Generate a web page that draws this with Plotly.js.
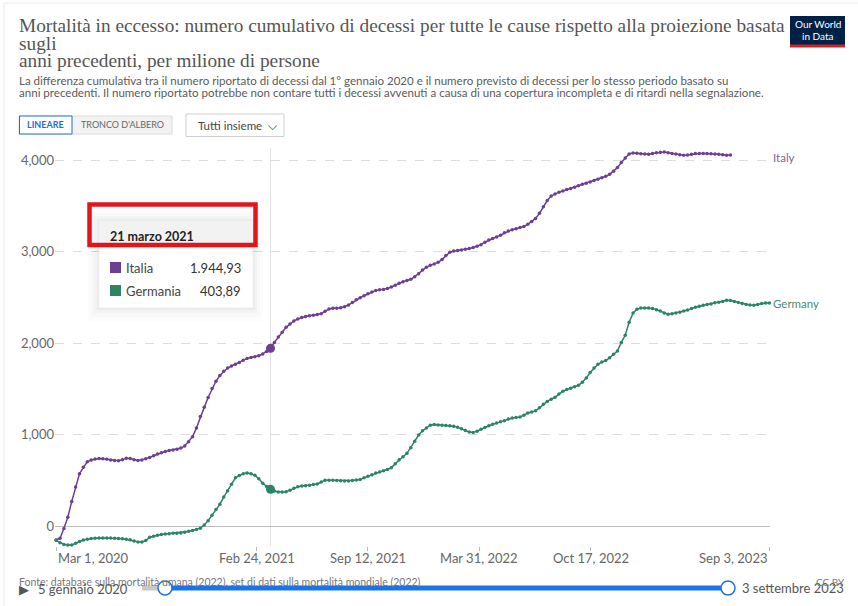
<!DOCTYPE html>
<html>
<head>
<meta charset="utf-8">
<script src="https://cdn.plot.ly/plotly-3.0.1.min.js"></script>
<style>
html,body{margin:0;padding:0;background:#fff;}
#chart{width:858px;height:606px;}
</style>
</head>
<body>
<div id="chart"></div>
<script>
// ---------- DATA ----------
const startDate = "2020-03-01";   // first weekly observation (Sundays)
const stepDays = 7;

const italyValues = [
-150,-130,-25,100,270,430,575,645,705,725,
735,740,738,732,726,718,716,728,745,740,
728,720,726,738,752,772,790,803,818,828,
835,842,855,878,925,980,1075,1200,1300,1408,
1505,1585,1648,1695,1730,1752,1772,1790,1815,1835,
1845,1853,1865,1884,1910,1945,2010,2070,2120,2175,
2210,2245,2265,2282,2292,2300,2306,2314,2324,2350,
2375,2382,2384,2388,2400,2418,2445,2475,2498,2520,
2542,2560,2577,2584,2588,2600,2615,2635,2656,2672,
2686,2700,2728,2760,2800,2832,2852,2868,2885,2915,
2960,2996,3008,3013,3020,3027,3035,3048,3062,3078,
3105,3128,3146,3163,3182,3207,3228,3242,3253,3265,
3277,3300,3330,3365,3420,3492,3560,3610,3633,3652,
3665,3680,3692,3705,3722,3737,3750,3764,3778,3793,
3808,3825,3847,3880,3920,3975,4025,4070,4080,4077,
4072,4070,4066,4074,4082,4088,4090,4082,4074,4068,
4060,4056,4058,4066,4073,4075,4074,4073,4071,4070,
4066,4060,4054,4058];

const germanyValues = [
-153,-180,-198,-205,-205,-185,-165,-150,-140,-133,
-130,-128,-128,-127,-128,-130,-133,-137,-142,-148,
-160,-172,-172,-155,-120,-108,-97,-90,-85,-80,
-77,-75,-72,-65,-55,-45,-36,-20,15,62,
122,185,240,320,390,460,530,555,575,583,
575,557,520,470,435,404,385,375,375,378,
395,415,432,440,443,448,456,462,485,503,
503,503,502,498,496,496,500,505,512,530,
548,565,583,594,608,622,640,685,728,760,
798,860,930,998,1045,1075,1105,1112,1108,1105,
1103,1100,1095,1082,1065,1048,1030,1025,1040,1060,
1080,1100,1115,1128,1142,1155,1172,1183,1188,1195,
1215,1238,1250,1262,1295,1333,1365,1390,1410,1445,
1475,1495,1508,1525,1542,1575,1620,1680,1730,1770,
1795,1812,1842,1880,1915,2010,2088,2230,2330,2372,
2385,2386,2385,2381,2368,2352,2330,2317,2322,2330,
2340,2352,2363,2380,2395,2405,2415,2423,2430,2442,
2450,2458,2470,2468,2458,2447,2435,2425,2418,2416,
2425,2434,2440,2441];

const seriesNames = ["Italy", "Germany"];
const tooltipNames = ["Italia", "Germania"];
const tooltipValues = ["1.944,93", "403,89"];
const tooltipDate = "21 marzo 2021";
const hoverIndex = 55;   // week of 21 March 2021

const xTickVals = ["2020-03-01","2021-02-24","2021-09-12","2022-03-31","2022-10-17","2023-09-03"];
const xTickText = ["Mar 1, 2020","Feb 24, 2021","Sep 12, 2021","Mar 31, 2022","Oct 17, 2022","Sep 3, 2023"];
const yTickVals = [0,1000,2000,3000,4000];
const yTickText = ["0","1,000","2,000","3,000","4,000"];

// ---------- BUILD ----------
function weeklyDates(n){
  const out=[]; const d0=new Date(startDate+"T00:00:00Z");
  for(let i=0;i<n;i++){ const d=new Date(d0.getTime()+i*stepDays*86400000); out.push(d.toISOString().slice(0,10)); }
  return out;
}
const italyDates = weeklyDates(italyValues.length);
const germanyDates = weeklyDates(germanyValues.length);

const W=858,H=606;
const M={l:55,r:88,t:142,b:60};
const PW=W-M.l-M.r, PH=H-M.t-M.b;
const px=x=>(x-M.l)/PW;
const py=y=>(H-M.b-y)/PH;

const cIt="#6D3E91", cDe="#2C8465";
const FONT="Lato, 'Open Sans', sans-serif";

const traces=[
 {x:italyDates,y:italyValues,type:"scatter",mode:"lines+markers",name:seriesNames[0],
  line:{color:cIt,width:1.5},marker:{color:cIt,size:3.5},cliponaxis:false,hoverinfo:"skip"},
 {x:germanyDates,y:germanyValues,type:"scatter",mode:"lines+markers",name:seriesNames[1],
  line:{color:cDe,width:1.5},marker:{color:cDe,size:3.5},cliponaxis:false,hoverinfo:"skip"},
 {x:[italyDates[hoverIndex]],y:[italyValues[hoverIndex]],type:"scatter",mode:"markers",
  marker:{color:cIt,size:9},hoverinfo:"skip"},
 {x:[germanyDates[hoverIndex]],y:[germanyValues[hoverIndex]],type:"scatter",mode:"markers",
  marker:{color:cDe,size:9},hoverinfo:"skip"}
];

function rect(x0,y0,x1,y1,opt){
  return Object.assign({type:"rect",xref:"paper",yref:"paper",x0:px(x0),x1:px(x1),y0:py(y1),y1:py(y0),layer:"above",line:{width:0}},opt);
}
function hline(x0,x1,y,color,width){
  return {type:"line",xref:"paper",yref:"paper",x0:px(x0),x1:px(x1),y0:py(y),y1:py(y),layer:"above",line:{color:color,width:width}};
}
function circ(cx,cy,r,opt){
  return Object.assign({type:"circle",xref:"paper",yref:"paper",x0:px(cx-r),x1:px(cx+r),y0:py(cy+r),y1:py(cy-r),layer:"above"},opt);
}

const shapes=[
 rect(4,3,870,640,{fillcolor:"rgba(0,0,0,0)",line:{color:"#ececec",width:1},layer:"below"}),
 {type:"line",xref:"x",yref:"paper",x0:italyDates[hoverIndex],x1:italyDates[hoverIndex],y0:0,y1:py(148),layer:"below",line:{color:"#e3e3e3",width:1}},
 // tooltip shadow
 rect(88,210,263,321,{fillcolor:"rgba(0,0,0,0.012)"}),
 rect(91,213,260,317,{fillcolor:"rgba(0,0,0,0.016)"}),
 rect(94,216,257,313,{fillcolor:"rgba(0,0,0,0.02)"}),
 rect(97,219,255,310,{fillcolor:"rgba(0,0,0,0.025)"}),
 rect(99,221,253,308,{fillcolor:"#ffffff",line:{color:"#e6e6e6",width:0.5}}),
 rect(99,221,253,248,{fillcolor:"#f2f2f2"}),
 rect(89.5,204.5,255.5,245,{fillcolor:"rgba(0,0,0,0)",line:{color:"#e3151c",width:4.5}}),
 rect(110,262,121,273,{fillcolor:cIt}),
 rect(110,285,121,296,{fillcolor:cDe}),
 // logo
 rect(790,16,845,45,{fillcolor:"#002147"}),
 rect(790,44.5,845,47.5,{fillcolor:"#ce261e"}),
 // buttons
 rect(19,116,172,134,{fillcolor:"#f2f2f2",line:{color:"#dcdcdc",width:1}}),
 rect(19.5,116,72,134,{fillcolor:"#ffffff",line:{color:"#1f6fd6",width:1}}),
 rect(186,114,284,136.5,{fillcolor:"#ffffff",line:{color:"#cfcfcf",width:1}}),
 // slider
 hline(142,165,588,"#c8c8c8",5),
 hline(165,728,588,"#1a73e8",5),
 circ(165,588,7,{fillcolor:"#ffffff",line:{color:"#1a73e8",width:1.5}}),
 circ(728,588,7,{fillcolor:"#ffffff",line:{color:"#1a73e8",width:1.5}})
];

function ann(text,x,y,opt){
  return Object.assign({text:text,xref:"paper",yref:"paper",x:px(x),y:py(y),xanchor:"left",yanchor:"middle",showarrow:false,
    font:{family:FONT,size:12,color:"#555"}},opt);
}
const serif="'Liberation Serif', 'DejaVu Serif', serif";
const annotations=[
 ann("Mortalità in eccesso: numero cumulativo di decessi per tutte le cause rispetto alla proiezione basata",17,26,{font:{family:serif,size:19.3,color:"#555"}}),
 ann("sugli",17,43,{font:{family:serif,size:19.3,color:"#555"}}),
 ann("anni precedenti, per milione di persone",17,60,{font:{family:serif,size:19.3,color:"#555"}}),
 ann("La differenza cumulativa tra il numero riportato di decessi dal 1° gennaio 2020 e il numero previsto di decessi per lo stesso periodo basato su",17,80,{font:{family:FONT,size:11.55,color:"#5b5b5b"}}),
 ann("anni precedenti. Il numero riportato potrebbe non contare tutti i decessi avvenuti a causa di una copertura incompleta e di ritardi nella segnalazione.",17,93,{font:{family:FONT,size:11.55,color:"#5b5b5b"}}),
 ann("Our World",817.5,24,{xanchor:"center",font:{family:FONT,size:10,color:"#ffffff"}}),
 ann("in Data",817.5,36,{xanchor:"center",font:{family:FONT,size:10,color:"#ffffff"}}),
 ann("<b>LINEARE</b>",45.5,125,{xanchor:"center",font:{family:FONT,size:9,color:"#1f6fd6"}}),
 ann("TRONCO D'ALBERO",122,125,{xanchor:"center",font:{family:FONT,size:9,color:"#666"}}),
 ann("Tutti insieme  ⌵",196,125.5,{font:{family:FONT,size:11.5,color:"#444"}}),
 ann("<b>"+tooltipDate+"</b>",108,236,{font:{family:FONT,size:12.5,color:"#222"}}),
 ann(tooltipNames[0],124,268,{font:{family:FONT,size:13,color:"#444"}}),
 ann(tooltipNames[1],124,291,{font:{family:FONT,size:13,color:"#444"}}),
 ann(tooltipValues[0],243,268,{xanchor:"right",font:{family:FONT,size:13,color:"#333"}}),
 ann(tooltipValues[1],243,291,{xanchor:"right",font:{family:FONT,size:13,color:"#333"}}),
 ann(seriesNames[0],771,157.5,{font:{family:FONT,size:11.5,color:"#7a679a"}}),
 ann(seriesNames[1],771,303,{font:{family:FONT,size:11.5,color:"#4c8a72"}}),
 ann("Fonte: database sulla mortalità umana (2022), set di dati sulla mortalità mondiale (2022)",17,582,{font:{family:FONT,size:10.5,color:"#777"}}),
 ann("▶",17,589,{font:{family:"DejaVu Sans",size:13,color:"#555"}}),
 ann("5 gennaio 2020",36,589,{font:{family:FONT,size:13,color:"#555"}}),
 ann("3 settembre 2023",740,588,{font:{family:FONT,size:13,color:"#555"}}),
 ann("CC BY",814,582,{font:{family:FONT,size:10,color:"#777"}})
];
// x tick labels: first left-aligned, last right-aligned (as in the original)
xTickVals.forEach((v,i)=>{
  annotations.push({text:xTickText[i],xref:"x",yref:"paper",x:v,y:py(558),yanchor:"middle",
    xanchor: i===0?"left":(i===xTickVals.length-1?"right":"center"),showarrow:false,
    font:{family:FONT,size:13,color:"#666"}});
});

const layout={
 width:W,height:H,margin:M,paper_bgcolor:"#fff",plot_bgcolor:"#fff",showlegend:false,
 font:{family:FONT,color:"#666"},
 xaxis:{type:"date",range:["2020-02-28","2023-09-04"],tickmode:"array",tickvals:xTickVals,ticktext:xTickVals.map(()=>""),
   showgrid:false,zeroline:false,showline:false,ticks:"outside",ticklen:4,tickcolor:"#bbb",tickwidth:1,
   tickfont:{family:FONT,size:13,color:"#666"},fixedrange:true},
 yaxis:{range:[-215,4200],tickmode:"array",tickvals:yTickVals,ticktext:yTickText,
   showgrid:true,gridcolor:"#dddddd",griddash:"dash",gridwidth:1,
   zeroline:true,zerolinecolor:"#bdbdbd",zerolinewidth:1.5,showline:false,ticks:"",
   tickfont:{family:FONT,size:13,color:"#666"},fixedrange:true},
 shapes:shapes,annotations:annotations,hovermode:false
};
Plotly.newPlot("chart",traces,layout,{displayModeBar:false,staticPlot:true});
</script>
</body>
</html>
